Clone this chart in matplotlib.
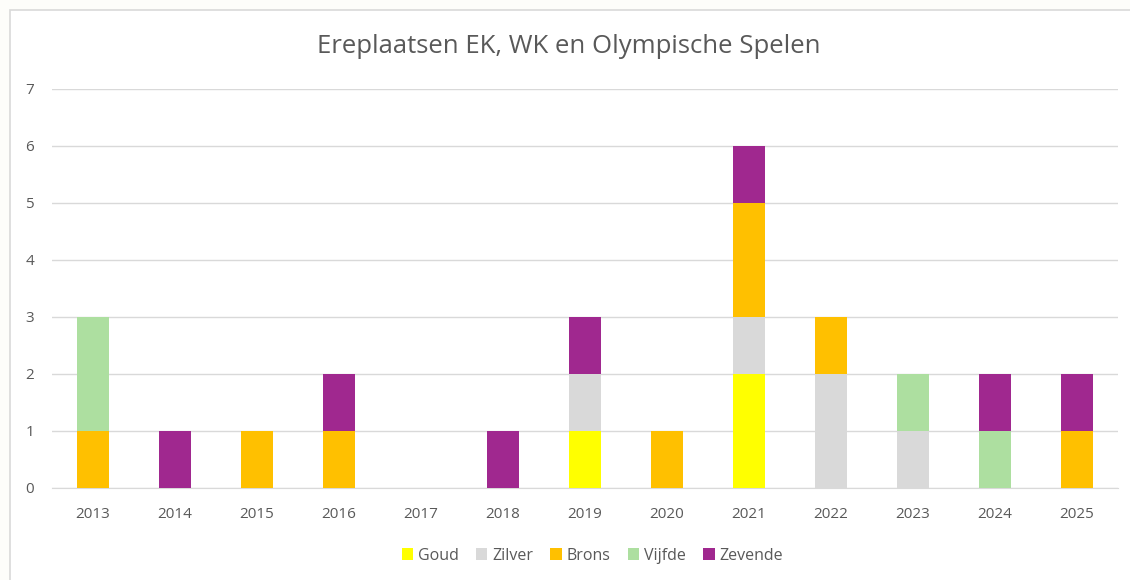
import numpy as np
import matplotlib.pyplot as plt
from matplotlib.patches import Rectangle

# ---------------- Data ----------------
years = ["2013", "2014", "2015", "2016", "2017", "2018", "2019",
         "2020", "2021", "2022", "2023", "2024", "2025"]
goud    = [0, 0, 0, 0, 0, 0, 1, 0, 2, 0, 0, 0, 0]
zilver  = [0, 0, 0, 0, 0, 0, 1, 0, 1, 2, 1, 0, 0]
brons   = [1, 0, 1, 1, 0, 0, 0, 1, 2, 1, 0, 0, 1]
vijfde  = [2, 0, 0, 0, 0, 0, 0, 0, 0, 0, 1, 1, 0]
zevende = [0, 1, 0, 1, 0, 1, 1, 0, 1, 0, 0, 1, 1]

series = [("Goud", goud, "#FFFF00"),
          ("Zilver", zilver, "#D9D9D9"),
          ("Brons", brons, "#FFC000"),
          ("Vijfde", vijfde, "#ADDFA0"),
          ("Zevende", zevende, "#A0288F")]

plt.rcParams['font.family'] = ['Open Sans', 'DejaVu Sans']
grey = "#595959"

fig = plt.figure(figsize=(11.3, 5.8), dpi=100)
fig.patch.set_facecolor("#FDFDFA")
# chart frame (behind the axes)
fig.patches.append(Rectangle((10 / 1130, -0.01), 1.02, 1 - 10 / 580 + 0.01,
                             transform=fig.transFigure, facecolor="white",
                             edgecolor="#D9D9D9", linewidth=1.2, zorder=-5))

ax = fig.add_axes([0.046, 0.159, 0.943, 0.688])
ax.set_zorder(2)
ax.set_facecolor("white")
x = np.arange(len(years))
bottom = np.zeros(len(years))
for name, vals, col in series:
    ax.bar(x, vals, width=0.39, bottom=bottom, color=col, label=name, zorder=3)
    bottom += np.array(vals)

ax.set_xlim(-0.5, len(years) - 0.5)
ax.set_ylim(0, 7)
ax.set_yticks(range(8))
ax.set_xticks(x)
ax.set_xticklabels(years)
ax.yaxis.grid(True, color="#D9D9D9", linewidth=1, zorder=0)
for s in ["top", "right", "left"]:
    ax.spines[s].set_visible(False)
ax.spines["bottom"].set_color("#D9D9D9")
ax.tick_params(axis="both", length=0, colors=grey, labelsize=11)
ax.tick_params(axis="x", pad=14)
ax.tick_params(axis="y", pad=13)

fig.text(0.503, 0.92, "Ereplaatsen EK, WK en Olympische Spelen", ha="center",
         va="center", fontsize=18.5, color=grey, zorder=3)

ax.legend(loc="center", bbox_to_anchor=(0.507, -0.17), ncol=5, frameon=False,
          fontsize=11.5, labelcolor=grey, handlelength=0.7, handleheight=0.7,
          handletextpad=0.3, columnspacing=1.1)

fig.savefig("out.png", dpi=100, facecolor=fig.get_facecolor())
